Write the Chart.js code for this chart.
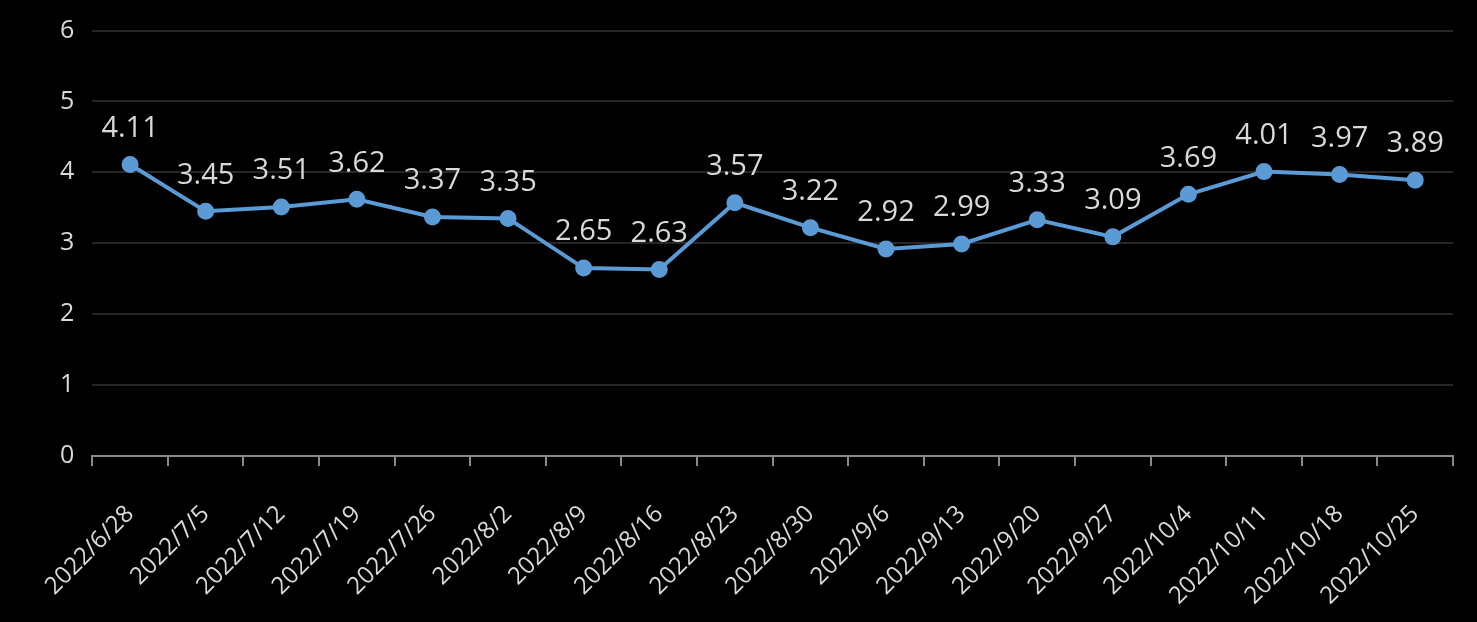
<!DOCTYPE html>
<html>
<head>
<meta charset="utf-8">
<script src="https://cdn.jsdelivr.net/npm/chart.js@4.4.1/dist/chart.umd.min.js"></script>
<style>
  html, body { margin: 0; padding: 0; background: #000; }
  #wrap { width: 1477px; height: 622px; }
</style>
</head>
<body>
<div id="wrap"><canvas id="chart"></canvas></div>
<script>
const labels = [
  "2022/6/28", "2022/7/5", "2022/7/12", "2022/7/19", "2022/7/26", "2022/8/2",
  "2022/8/9", "2022/8/16", "2022/8/23", "2022/8/30", "2022/9/6", "2022/9/13",
  "2022/9/20", "2022/9/27", "2022/10/4", "2022/10/11", "2022/10/18", "2022/10/25"
];
const values = [
  4.11, 3.45, 3.51, 3.62, 3.37, 3.35, 2.65, 2.63, 3.57,
  3.22, 2.92, 2.99, 3.33, 3.09, 3.69, 4.01, 3.97, 3.89
];

const FONT = "'Open Sans', 'Noto Sans', sans-serif";

// value labels above each point
const pointLabels = {
  id: "pointLabels",
  afterDatasetsDraw(chart) {
    const ctx = chart.ctx;
    const meta = chart.getDatasetMeta(0);
    ctx.save();
    ctx.font = "29px " + FONT;
    ctx.fillStyle = "#d9d9d9";
    ctx.textAlign = "center";
    ctx.textBaseline = "middle";
    meta.data.forEach((pt, i) => {
      ctx.fillText(values[i].toFixed(2), pt.x, pt.y - 36);
    });
    ctx.restore();
  },
};

new Chart(document.getElementById("chart"), {
  type: "line",
  data: {
    labels: labels,
    datasets: [
      {
        data: values,
        borderColor: "#5b9bd5",
        backgroundColor: "#5b9bd5",
        borderWidth: 4,
        pointRadius: 6.5,
        pointHoverRadius: 6.5,
        tension: 0,
      },
    ],
  },
  options: {
    responsive: true,
    maintainAspectRatio: false,
    animation: false,
    layout: { padding: { left: 42, right: 24, top: 0, bottom: 0 } },
    plugins: {
      legend: { display: false },
      tooltip: { enabled: false },
    },
    scales: {
      x: {
        offset: true,
        afterFit(scale) {
          scale.height = 166;
        },
        grid: {
          drawOnChartArea: false,
          drawTicks: true,
          tickLength: 10,
          color: "#898989",
          lineWidth: 2,
          offset: true,
        },
        border: { color: "#898989", width: 2 },
        ticks: {
          color: "#d9d9d9",
          font: { family: FONT, size: 24 },
          maxRotation: 45,
          minRotation: 45,
          autoSkip: false,
          padding: 34,
        },
      },
      y: {
        min: 0,
        max: 6,
        ticks: {
          stepSize: 1,
          color: "#d9d9d9",
          font: { family: FONT, size: 25, lineHeight: 1 },
          padding: 18,
        },
        grid: { color: "#262626", lineWidth: 2, drawTicks: false },
        border: { display: false },
      },
    },
  },
  plugins: [pointLabels],
});
</script>
</body>
</html>
